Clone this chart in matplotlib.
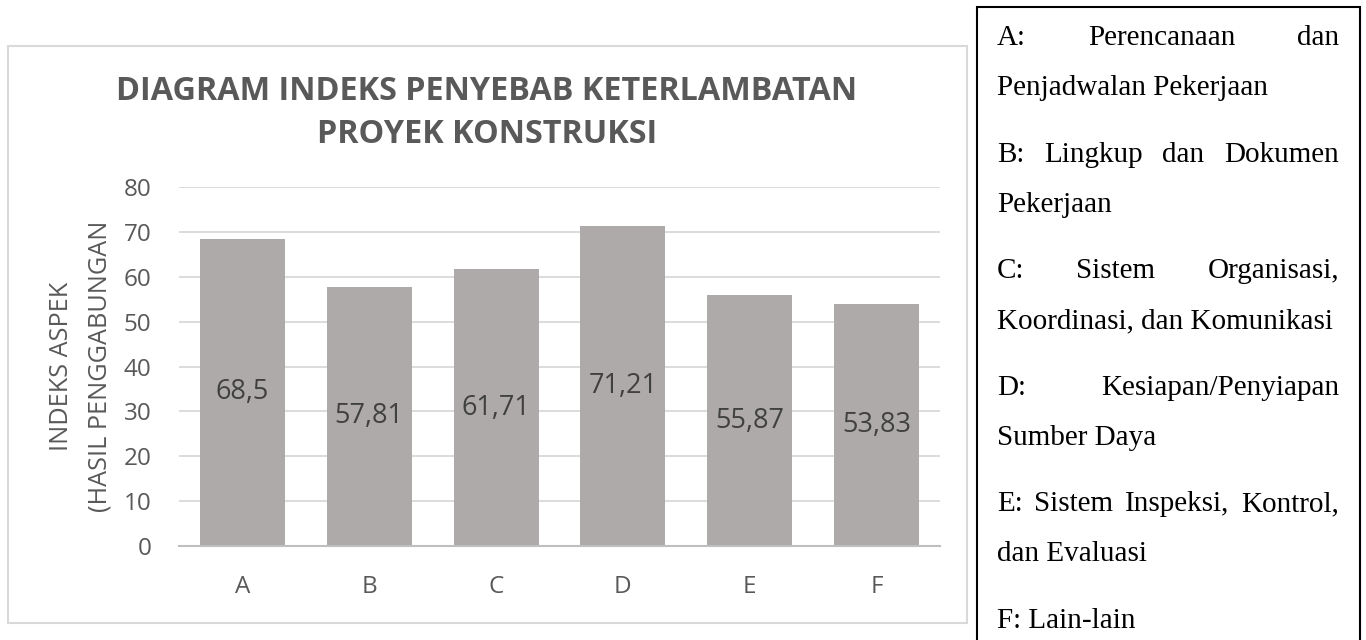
import matplotlib
matplotlib.use("Agg")
import matplotlib.pyplot as plt
from matplotlib.patches import Rectangle

# chart data
categories = ["A", "B", "C", "D", "E", "F"]
values = [68.5, 57.81, 61.71, 71.21, 55.87, 53.83]
value_labels = ["68,5", "57,81", "61,71", "71,21", "55,87", "53,83"]
yticks = [0, 10, 20, 30, 40, 50, 60, 70, 80]

title_lines = ["DIAGRAM INDEKS PENYEBAB KETERLAMBATAN", "PROYEK KONSTRUKSI"]
ylabel_lines = ["INDEKS ASPEK", "(HASIL PENGGABUNGAN"]

# side legend: each paragraph as it wraps in the picture
legend_paragraphs = [
    ["A: Perencanaan dan", "Penjadwalan Pekerjaan"],
    ["B: Lingkup dan Dokumen", "Pekerjaan"],
    ["C: Sistem Organisasi,", "Koordinasi, dan Komunikasi"],
    ["D: Kesiapan/Penyiapan", "Sumber Daya"],
    ["E: Sistem Inspeksi, Kontrol,", "dan Evaluasi"],
    ["F: Lain-lain"],
]

W, H = 1366, 640
fig = plt.figure(figsize=(W / 100, H / 100), dpi=100)
fig.patch.set_facecolor("white")


def fx(px):
    return px / W


def fy(py):
    return 1 - py / H


grey_text = "#595959"
sans = "Open Sans"
serif = "Liberation Serif"

# chart frame
fig.add_artist(Rectangle((fx(8), fy(623)), (967 - 8) / W, (623 - 46) / H,
                         transform=fig.transFigure, fill=False,
                         edgecolor="#D9D9D9", lw=1.5))

ax = fig.add_axes([fx(179), fy(546), (940 - 179) / W, (546 - 187) / H])
x = range(len(categories))
ax.bar(x, values, width=0.67, color="#AEAAAA", zorder=2)
ax.set_xlim(-0.5, len(categories) - 0.5)
ax.set_ylim(0, 80)
ax.set_yticks(yticks)
ax.set_xticks(list(x))
ax.set_xticklabels(categories)
ax.grid(axis="y", color="#D9D9D9", lw=1.3, zorder=0)
ax.set_axisbelow(True)
for s in ["top", "right", "left"]:
    ax.spines[s].set_visible(False)
ax.spines["bottom"].set_color("#BFBFBF")
ax.spines["bottom"].set_linewidth(1.5)
ax.spines["bottom"].set_zorder(3)
ax.tick_params(length=0, labelsize=17.5, labelcolor=grey_text)
ax.tick_params(axis="x", pad=21)
ax.tick_params(axis="y", pad=20)
for lbl in ax.get_xticklabels() + ax.get_yticklabels():
    lbl.set_fontfamily(sans)

for i, (v, lab) in enumerate(zip(values, value_labels)):
    ax.text(i, v / 2, lab, ha="center", va="center", fontsize=19.5,
            color="#404040", family=sans, zorder=4)

# title
for k, line in enumerate(title_lines):
    fig.text(fx(487), fy(100 + 43 * k), line, ha="center", va="baseline",
             fontsize=23.3, fontweight="bold", color=grey_text, family=sans)

# y label (two rotated lines)
for k, line in enumerate(ylabel_lines):
    fig.text(fx(61 + 39 * k), fy(366), line, ha="center", va="center",
             rotation=90, fontsize=18.2, color=grey_text, family=sans)

# legend box, open at the bottom
fig.add_artist(Rectangle((fx(977), -0.05), (1360 - 977) / W, fy(7) + 0.05,
                         transform=fig.transFigure, fill=False,
                         edgecolor="black", lw=1.5))

renderer = fig.canvas.get_renderer()
left, right = 997, 1339
for p, para in enumerate(legend_paragraphs):
    for j, line in enumerate(para):
        base = 45 + 116.6 * p + 50 * j
        justify = j < len(para) - 1
        if not justify:
            fig.text(fx(left), fy(base), line, ha="left", va="baseline",
                     fontsize=21, family=serif, color="black")
            continue
        words = line.split()
        texts = [fig.text(0, fy(base), w, ha="left", va="baseline",
                          fontsize=21, family=serif, color="black")
                 for w in words]
        widths = [t.get_window_extent(renderer).width for t in texts]
        gap = (right - left - sum(widths)) / (len(words) - 1)
        pos = left
        for t, w in zip(texts, widths):
            t.set_x(fx(pos))
            pos += w + gap

fig.savefig("out.png", dpi=100)
